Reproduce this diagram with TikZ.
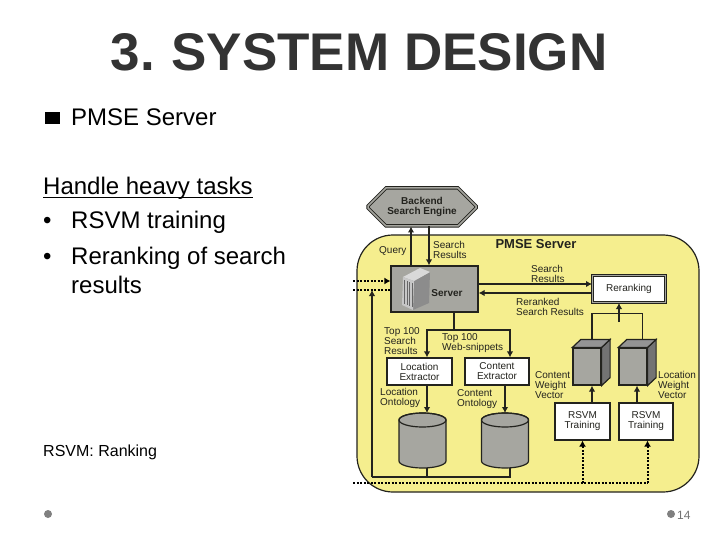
\documentclass[tikz,border=0pt]{standalone}
\usepackage{fontspec}
\setmainfont{Liberation Sans}
\usetikzlibrary{arrows.meta,positioning,calc,shapes.misc}
\definecolor{panelyellow}{RGB}{245,238,142}
\definecolor{boxgray}{RGB}{166,166,160}
\definecolor{titlegray}{RGB}{51,51,51}
\definecolor{inkdark}{RGB}{35,35,30}
\newcommand{\fsz}[1]{\fontsize{#1}{#1}\selectfont}

\begin{document}
\begin{tikzpicture}[x=1pt,y=-1pt,
slidetext/.style={anchor=base west,inner sep=0pt,font=\fsz{24}},
lab/.style={anchor=west,inner sep=0pt,align=left,text=inkdark,font=\fsz{10}},
whitebox/.style={draw=inkdark,line width=1.2pt,fill=white,inner sep=0pt,align=center,text=inkdark,font=\fsz{10}},
graybox/.style={draw=inkdark,line width=1.2pt,fill=boxgray,inner sep=0pt},
link/.style={inkdark,line width=1.2pt,-{Latex[length=6pt,width=6.5pt]}},
wire/.style={inkdark,line width=1.2pt},
dots/.style={black,line width=2pt,dash pattern=on 2pt off 1.5pt},
dotlink/.style={dots,-{Latex[length=6pt,width=7pt]}},
canbox/.style={inner sep=0pt,outer sep=0pt,minimum width=47pt,minimum height=55pt},
cubefront/.style={graybox,minimum width=28pt,minimum height=37pt},
footdot/.style={circle,fill=black!50,inner sep=0pt,minimum size=8pt}]
\useasboundingbox (0,0) rectangle (720,540);
\fill[white] (0,0) rectangle (720,540);

\node[inner sep=0pt,text=titlegray,font=\fsz{53}\bfseries] (title) at (359,52) {3.\hspace{-3pt} SYSTEM DESIGN};
\node[fill=black,inner sep=0pt,minimum width=15pt,minimum height=12.5pt] (square) at (52.5,118) {};
\node[slidetext] (pmse) at (71,126) {PMSE Server};
\node[slidetext] (heavy) at (43,195) {Handle heavy tasks};
\draw[black,line width=1pt] ([yshift=-2.5pt]heavy.base west) -- ([yshift=-2.5pt]heavy.base east);
\node[slidetext] (bulleta) at (43,229) {•};
\node[slidetext] (rsvmitem) at (71,229) {RSVM training};
\node[slidetext] (bulletb) at (43,264) {•};
\node[slidetext] (rerankitem) at (71,264) {Reranking of search};
\node[slidetext] (resultsitem) at (71,293) {results};
\node[slidetext,font=\fsz{16}] (ranking) at (43,456) {RSVM: Ranking};
\node[footdot] (footl) at (48,514) {};
\node[footdot] (footr) at (671,514) {};
\node[slidetext,font=\fsz{12},text=black!55] (pageno) at (677,519) {14};

\node[draw=inkdark,line width=1.2pt,fill=panelyellow,rounded corners=36pt,minimum width=342pt,minimum height=257pt,inner sep=0pt] (panel) at (528,363.5) {};
\node[chamfered rectangle,chamfered rectangle xsep=9pt,chamfered rectangle ysep=9pt,draw=inkdark,line width=1pt,double=boxgray,double distance=1.5pt,
 fill=boxgray,inner sep=0pt,minimum width=108pt,minimum height=38pt,align=center,text=inkdark,font=\fsz{10}\bfseries] (backend) at (422,207) {Backend\\Search Engine};
\node[graybox,minimum width=87pt,minimum height=46pt] (server) at (434.5,289) {};
\node[whitebox,line width=1pt,double=boxgray,double distance=1.5pt,minimum width=73pt,minimum height=27pt] (rerank) at (629,289) {Reranking};

\fill[black!45] (414,281) -- (430,272) -- (429,303) -- (413,310) -- cycle;
\fill[black!15] (403,277) -- (420,268) -- (430,272) -- (414,281) -- cycle;
\fill[black!22] (403,277) -- (414,281) -- (413,310) -- (402,305) -- cycle;
\foreach \x/\y in {404.5/280,407/281,409.5/282,412/283}
  \draw[black!60,line width=.8pt] (\x,\y) -- (\x,\y+24);
\node[inner sep=0pt,text=inkdark,font=\fsz{10}\bfseries] (servername) at (447,293) {Server};

\foreach \n/\x/\y/\w/\h/\t in {locext/419.5/371.5/65/27/Location\\Extractor,conext/497/371.5/64/27/Content\\Extractor,
 traina/582.5/421.5/55/37/RSVM\\Training,trainb/646/421.5/54/37/RSVM\\Training}
  \node[whitebox,minimum width=\w pt,minimum height=\h pt] (\n) at (\x,\y) {\t};

\foreach \n/\x in {cana/422.5,canb/505} {
  \node[canbox] (\n) at (\x,440.5) {};
  \draw[graybox] ($(\n.north west)+(0,7)$) -- ($(\n.south west)+(0,-7)$)
    arc[start angle=180,end angle=360,x radius=23.5pt,y radius=7pt] -- ($(\n.north east)+(0,7)$)
    arc[start angle=0,end angle=180,x radius=23.5pt,y radius=7pt] -- cycle;
  \draw[inkdark,line width=1.2pt] ($(\n.north)+(0,7)$) ellipse[x radius=23.5pt,y radius=7pt];
}

\foreach \n/\x in {cubea/587,cubeb/633} {
  \node[cubefront] (\n) at (\x,366.5) {};
  \draw[inkdark,line width=1.2pt,fill=black!55] (\n.north east) -- ++(8.5,-8) -- ($(\n.south east)+(8.5,-8)$) -- (\n.south east) -- cycle;
  \draw[inkdark,line width=1.2pt,fill=black!42] (\n.north west) -- ++(8.5,-8) -- ($(\n.north east)+(8.5,-8)$) -- (\n.north east) -- cycle;
}

\coordinate (indota) at (353,281);
\coordinate (indotb) at (353,290);
\coordinate (indotc) at (353,483);
\coordinate (splitdown) at (454,330);
\coordinate (splitup) at (619,322);
\coordinate (busleft) at (372,477);
\coordinate (dotup) at (647.5,483);

\draw[link] ([xshift=-23.5pt]server.north) -- ([xshift=-11pt]backend.south);
\draw[link] ([xshift=7pt]backend.south) -- ([xshift=-5.5pt]server.north);
\draw[link] ([yshift=5pt]server.east) -- ([yshift=5pt]rerank.west);
\draw[link] ([yshift=-4pt]rerank.west) -- ([yshift=-4pt]server.east);
\draw[dotlink] (indota) -- (server.west |- indota);
\draw[dots] (indotb) -- (server.west |- indotb);
\draw[wire] (server.south -| splitdown) -- (splitdown);
\draw[link] (splitdown) -| ([xshift=7.5pt]locext.north);
\draw[link] (splitdown) -| ([xshift=13pt]conext.north);
\draw[link] ([xshift=7.5pt]locext.south) -- ([xshift=4.5pt]cana.north);
\draw[link] ([xshift=8pt]conext.south) -- (canb.north);
\draw[wire] ([xshift=4.5pt]cana.south) -- ([xshift=4.5pt]cana.south |- busleft);
\draw[wire] ([xshift=5pt]canb.south) -- ([xshift=5pt]canb.south |- busleft) -- (busleft);
\draw[link] (busleft) -- (busleft |- indotb);
\draw[link] (splitup) -- (rerank.south -| splitup);
\draw[wire] ([xshift=5pt,yshift=8pt]cubea.north) -- ++(0,-26) -| ([xshift=9.5pt,yshift=8pt]cubeb.north);
\draw[link] ([xshift=9.5pt]traina.north) -- ([xshift=5pt]cubea.south);
\draw[link] ([xshift=-9pt]trainb.north) -- ([xshift=4pt]cubeb.south);
\draw[dots] (indotc) -- (dotup);
\draw[dotlink] (traina.south |- indotc) -- (traina.south);
\draw[dotlink] (dotup) -- (trainb.south -| dotup);

\node[inner sep=0pt,text=inkdark,font=\fsz{13}\bfseries] (panelname) at (536,244) {PMSE Server};
\foreach \n/\x/\y/\t in {query/379/251/Query,resa/433/250/Search\\Results,resb/531/274/Search\\Results,
 reranked/516/306.5/Reranked\\Search Results,topres/384/341/Top 100\\Search\\Results,
 topweb/442/343/Top 100\\Web-snippets,locont/380/398/Location\\Ontology,conont/457/399/Content\\Ontology,
 conweight/535/385.5/Content\\Weight\\Vector,locweight/658/384.5/Location\\Weight\\Vector}
  \node[lab] (\n) at (\x,\y) {\t};
\end{tikzpicture}
\end{document}
